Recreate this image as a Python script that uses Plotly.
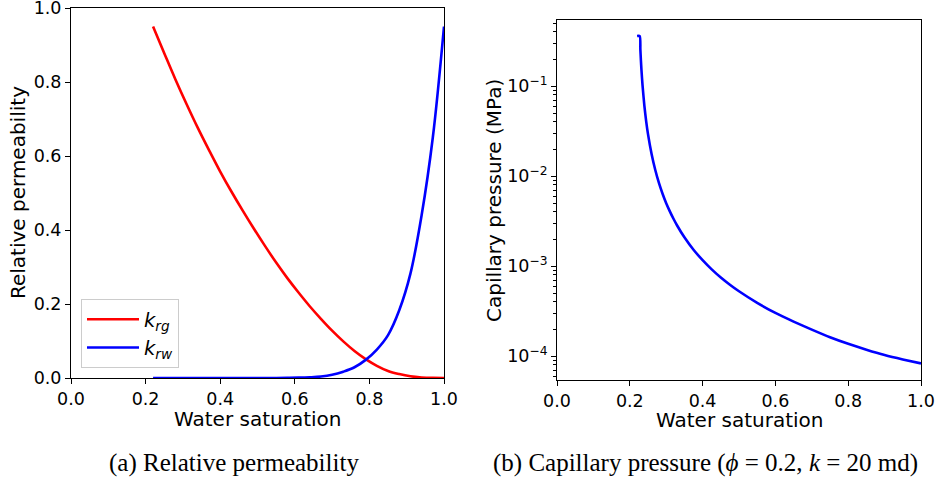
import plotly.graph_objects as go

# ---------------- data ----------------
sw_kr = [0.22, 0.25, 0.28, 0.31, 0.34, 0.37, 0.40, 0.43, 0.46, 0.49, 0.52, 0.55, 0.58,
         0.61, 0.64, 0.67, 0.70, 0.73, 0.76, 0.79, 0.82, 0.85, 0.88, 0.91, 0.94, 0.97, 1.00]
krg = [0.950, 0.878, 0.807, 0.740, 0.676, 0.616, 0.558, 0.504, 0.453, 0.404, 0.357,
       0.312, 0.270, 0.231, 0.194, 0.160, 0.128, 0.099, 0.073, 0.051, 0.033, 0.019,
       0.0105, 0.0045, 0.0015, 0.0003, 0.0]
krw = [0.0, 0.0, 0.0, 0.0, 0.0, 0.0, 0.0, 0.0, 0.0, 0.00003, 0.00007, 0.00017, 0.0004,
       0.0009, 0.0019, 0.0039, 0.0085, 0.017, 0.029, 0.049, 0.077, 0.116, 0.183, 0.282,
       0.44, 0.65, 0.95]

sw_pc = [0.22, 0.2274, 0.229, 0.2305, 0.232, 0.235, 0.24, 0.245, 0.25, 0.26, 0.27,
         0.28, 0.29, 0.30, 0.31, 0.32, 0.33, 0.35, 0.375, 0.40, 0.425, 0.45, 0.475,
         0.50, 0.55, 0.60, 0.65, 0.70, 0.75, 0.80, 0.85, 0.90, 0.95, 1.00]
pc = [0.36, 0.36, 0.256, 0.194, 0.152, 0.102, 0.0608, 0.0406, 0.0293, 0.0175, 0.0117,
      0.0084, 0.00638, 0.0050, 0.00406, 0.00336, 0.00283, 0.00209, 0.00152, 0.001167,
      0.000922, 0.000748, 0.000622, 0.000526, 0.000391, 0.000302, 0.000242, 0.000197,
      0.000162, 0.000137, 0.000118, 0.000103, 0.000092, 0.000083]

x_ticks = [0.0, 0.2, 0.4, 0.6, 0.8, 1.0]
x_tick_text = ["0.0", "0.2", "0.4", "0.6", "0.8", "1.0"]
y_ticks_kr = [0.0, 0.2, 0.4, 0.6, 0.8, 1.0]
y_tick_text_kr = ["0.0", "0.2", "0.4", "0.6", "0.8", "1.0"]
pc_major = [1e-4, 1e-3, 1e-2, 1e-1]
pc_major_text = ["10<sup>−4</sup>", "10<sup>−3</sup>", "10<sup>−2</sup>", "10<sup>−1</sup>"]
pc_minor = [m * 10.0 ** e for e in (-5, -4, -3, -2, -1) for m in range(2, 10)]

# ---------------- figure ----------------
W, H = 936, 482
def px(x):
    return x / W
def py(y):
    return 1 - y / H

fig = go.Figure()
fig.add_trace(go.Scatter(x=sw_kr, y=krg, mode="lines", name="<i>k</i><sub><i>rg</i></sub>",
                         line=dict(color="#ff0000", width=2.6, shape="spline", smoothing=1),
                         xaxis="x", yaxis="y"))
fig.add_trace(go.Scatter(x=sw_kr, y=krw, mode="lines", name="<i>k</i><sub><i>rw</i></sub>",
                         line=dict(color="#0000ff", width=2.6, shape="spline", smoothing=1),
                         xaxis="x", yaxis="y"))
fig.add_trace(go.Scatter(x=sw_pc, y=pc, mode="lines", showlegend=False,
                         line=dict(color="#0000ff", width=2.6, shape="spline", smoothing=0.6),
                         xaxis="x2", yaxis="y2"))

tickfont = dict(family="DejaVu Sans", size=17.5, color="black")
common = dict(showline=True, mirror=True, linecolor="black", linewidth=1,
              ticks="outside", ticklen=5, tickwidth=1, tickcolor="black",
              showgrid=False, zeroline=False, tickfont=tickfont,
              automargin=False, ticklabeloverflow="allow")

fig.update_layout(
    width=W, height=H,
    margin=dict(l=0, r=0, t=0, b=0, autoexpand=False),
    paper_bgcolor="white", plot_bgcolor="white",
    xaxis=dict(domain=[px(71), px(444)], range=[0, 1], anchor="y",
               tickvals=x_ticks, ticktext=x_tick_text, **common),
    yaxis=dict(domain=[py(378), py(8)], range=[0, 1], anchor="x",
               tickvals=y_ticks_kr, ticktext=y_tick_text_kr, **common),
    xaxis2=dict(domain=[px(557), px(921)], range=[0, 1], anchor="y2",
                tickvals=x_ticks, ticktext=x_tick_text, **common),
    yaxis2=dict(domain=[py(380), py(20)], type="log", range=[-4.265, -0.265], anchor="x2",
                tickvals=pc_major, ticktext=pc_major_text,
                minor=dict(tickvals=pc_minor, ticks="outside", ticklen=3, tickwidth=1,
                           tickcolor="black", showgrid=False),
                **common),
    legend=dict(x=px(81), y=py(368), xanchor="left", yanchor="bottom",
                bgcolor="rgba(255,255,255,0.8)", bordercolor="#cccccc", borderwidth=1,
                itemwidth=52,
                font=dict(family="DejaVu Sans", size=19.5, color="black")),
)

title_font = dict(family="DejaVu Sans", size=20, color="black")
cap_font = dict(family="Liberation Serif", size=25, color="black")
annots = [
    dict(text="Relative permeability", x=px(18), y=py(193), textangle=-90, font=title_font),
    dict(text="Capillary pressure (MPa)", x=px(494), y=py(201), textangle=-90, font=title_font),
    dict(text="Water saturation", x=px(257.5), y=py(419), font=title_font),
    dict(text="Water saturation", x=px(739), y=py(420), font=title_font),
    dict(text="(a) Relative permeability", x=px(233.7), y=py(463), font=cap_font),
    dict(text="(b) Capillary pressure (<i>ϕ</i> = 0.2, <i>k</i> = 20 md)", x=px(705), y=py(463),
         font=cap_font),
]
for a in annots:
    a.update(xref="paper", yref="paper", showarrow=False, xanchor="center", yanchor="middle")
    fig.add_annotation(**a)

fig.write_html("out.html")
